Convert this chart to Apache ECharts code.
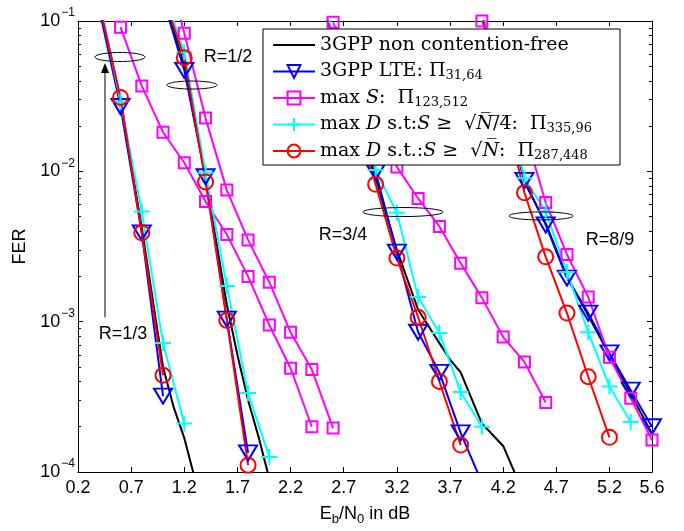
<!DOCTYPE html>
<html>
<head>
<meta charset="utf-8">
<script src="https://cdn.jsdelivr.net/npm/echarts@6/dist/echarts.min.js"></script>
<style>
  html, body { margin: 0; padding: 0; background: #fff; }
  #chart { width: 684px; height: 531px; }
</style>
</head>
<body>
<div id="chart"></div>
<script>
// tick positions
const xTicks = [0.2, 0.7, 1.2, 1.7, 2.2, 2.7, 3.2, 3.7, 4.2, 4.7, 5.2, 5.6];
const yDecades = [1e-4, 1e-3, 1e-2];
const yMinorMult = [2, 3, 4, 5, 6, 7, 8, 9];

// FER curves, one small array per code rate: [Eb/N0, FER]
const black13 = [[0.4, 0.13], [0.6, 0.030], [0.8, 0.0042], [1.0, 0.0005], [1.1, 0.00027], [1.2, 0.000168], [1.3, 0.00009]];
const black12 = [[1.0, 0.15], [1.2, 0.05], [1.4, 0.009], [1.6, 0.0013], [1.7, 0.0006], [1.8, 0.0003], [1.9, 0.00017], [2.0, 0.00009]];
const black34 = [[2.5, 0.13], [3.0, 0.009], [3.2, 0.003], [3.4, 0.0012], [3.6, 0.00072], [3.7, 0.00056], [3.8, 0.00046], [4.0, 0.00021], [4.2, 0.000149], [4.3, 0.000102], [4.4, 0.00007]];
const black89 = [[4.0, 0.12], [4.4, 0.0085], [4.6, 0.0045], [4.8, 0.002], [5.0, 0.0011], [5.2, 0.0006], [5.4, 0.00033], [5.6, 0.00018]];

const blue13 = [[0.4, 0.12], [0.6, 0.027], [0.8, 0.0039], [1.0, 0.00032]];
const blue12 = [[1.0, 0.14], [1.2, 0.047], [1.4, 0.0092], [1.6, 0.00104], [1.8, 0.000134]];
const blue34 = [[2.5, 0.13], [3.0, 0.0099], [3.2, 0.0029], [3.4, 0.00085], [3.6, 0.00046], [3.8, 0.000182], [4.0, 0.000085]];
const blue89 = [[4.0, 0.12], [4.4, 0.0087], [4.6, 0.0044], [4.8, 0.00195], [5.0, 0.00114], [5.2, 0.00062], [5.4, 0.00035], [5.6, 0.0002]];

const mag13 = [[0.6, 0.091], [0.8, 0.037], [1.0, 0.0182], [1.2, 0.0114], [1.4, 0.0063], [1.6, 0.0038], [1.8, 0.002], [2.0, 0.00095], [2.2, 0.00049], [2.4, 0.0002]];
const mag12 = [[1.0, 0.3], [1.2, 0.083], [1.4, 0.0226], [1.6, 0.0075], [1.8, 0.0035], [2.0, 0.00183], [2.2, 0.00085], [2.4, 0.00048], [2.6, 0.000196]];
const mag34 = [[2.6, 0.098], [3.2, 0.0107], [3.4, 0.0066], [3.6, 0.0043], [3.8, 0.00245], [4.0, 0.00144], [4.2, 0.00079], [4.4, 0.00054], [4.6, 0.00029]];
const mag89 = [[4.0, 0.1], [4.4, 0.019], [4.6, 0.0062], [4.8, 0.0028], [5.0, 0.00146], [5.2, 0.00058], [5.4, 0.00031], [5.6, 0.000163]];

const cyan13 = [[0.4, 0.14], [0.6, 0.029], [0.8, 0.0054], [1.0, 0.00072], [1.2, 0.00021]];
const cyan12 = [[1.0, 0.16], [1.2, 0.062], [1.4, 0.0098], [1.6, 0.00173], [1.8, 0.000335], [2.0, 0.000126]];
const cyan34 = [[2.5, 0.14], [3.0, 0.0102], [3.2, 0.0053], [3.4, 0.00146], [3.6, 0.00084], [3.8, 0.00034], [4.0, 0.0002]];
const cyan89 = [[4.0, 0.12], [4.4, 0.009], [4.6, 0.0054], [4.8, 0.00214], [5.0, 0.00085], [5.2, 0.00037], [5.4, 0.000215]];

const red13 = [[0.4, 0.13], [0.6, 0.031], [0.8, 0.0039], [1.0, 0.00044]];
const red12 = [[1.0, 0.15], [1.2, 0.057], [1.4, 0.0085], [1.6, 0.00102], [1.8, 0.000111]];
const red34 = [[2.5, 0.13], [3.0, 0.0082], [3.2, 0.00265], [3.4, 0.00107], [3.6, 0.0004], [3.8, 0.000151]];
const red89 = [[4.0, 0.11], [4.4, 0.0072], [4.6, 0.0027], [4.8, 0.00114], [5.0, 0.00043], [5.2, 0.00017]];

// annotations in data coordinates
const ellipses = [[0.595, 0.0576, 25, 4.5], [1.272, 0.0375, 25, 4], [3.257, 0.00536, 40, 4.5], [4.556, 0.00505, 32, 4]];
const rateLabels = [['R=1/3', 0.623, 0.00083], ['R=1/2', 1.611, 0.0576], ['R=3/4', 2.693, 0.00377], ['R=8/9', 5.205, 0.00349]];
const arrow = [0.454, 0.00107, 0.0526];

const names = ['3GPP non contention-free', '3GPP LTE', 'max S', 'max D N/4', 'max D N'];
const legendText = {
  '3GPP non contention-free': '3GPP non contention-free',
  '3GPP LTE': '3GPP LTE: \u03a0{s|31,64}',
  'max S': 'max {i|S}:  \u03a0{s|123,512}',
  'max D N/4': 'max {i|D} s.t:{i|S} \u2265  \u221a{i|N\u0305}/\u03054\u0305:  \u03a0{s|335,96}',
  'max D N': 'max {i|D} s.t.:{i|S} \u2265  \u221a{i|N\u0305}:  \u03a0{s|287,448}'
};

const join = (groups) => {
  const out = [];
  groups.forEach((g, i) => {
    if (i > 0) out.push('-');
    g.forEach(p => out.push(p));
  });
  return out;
};

const yMinor = [];
yDecades.forEach(d => yMinorMult.forEach(m => yMinor.push(m * d)));

const SANS = 'Liberation Sans, Arial, sans-serif';
const SERIF = 'DejaVu Serif, serif';
const plus = 'path://M0,-1L0,1M-1,0L1,0';

function mk(name, color, groups, symbol, size, rotate) {
  return {
    name: name,
    type: 'line',
    data: join(groups),
    symbol: symbol,
    symbolSize: size,
    symbolRotate: rotate || 0,
    showSymbol: symbol !== 'none',
    connectNulls: false,
    clip: true,
    lineStyle: { color: color, width: 2 },
    itemStyle: { color: 'rgba(0,0,0,0)', borderColor: color, borderWidth: 2 },
    emphasis: { disabled: true }
  };
}

const chart = echarts.init(document.getElementById('chart'));

const xBase = {
  type: 'value', min: 0.2, max: 5.6, interval: 0.5,
  splitLine: { show: false },
  axisLine: { show: true, onZero: false, lineStyle: { color: '#000', width: 1 } },
  axisTick: { show: true, inside: true, length: 5, customValues: xTicks, lineStyle: { color: '#000' } }
};
const yBase = {
  type: 'log', logBase: 10, min: 1e-4, max: 1e-1,
  splitLine: { show: false },
  axisLine: { show: true, onZero: false, lineStyle: { color: '#000', width: 1 } },
  axisTick: { show: true, inside: true, length: 5, lineStyle: { color: '#000' } }
};

// legend entries; the marker-less curve gets a plain line icon
const legendData = names.map((n, i) => i === 0
  ? { name: n, icon: 'path://M0,0L42,0L42,2L0,2Z', itemStyle: { color: '#000', borderWidth: 0 } }
  : { name: n });

chart.setOption({
  animation: false,
  backgroundColor: '#fff',
  grid: { left: 78, right: 32, top: 21, bottom: 59, containLabel: false },
  xAxis: [
    Object.assign({}, xBase, {
      position: 'bottom',
      name: '{n|E}{sb|b}{n|/N}{sb|0}{n| in dB}',
      nameLocation: 'middle',
      nameGap: 30,
      nameTextStyle: {
        rich: {
          n: { fontFamily: SANS, fontSize: 18, color: '#000', lineHeight: 24 },
          sb: { fontFamily: SANS, fontSize: 13, color: '#000', lineHeight: 13, verticalAlign: 'bottom' }
        }
      },
      axisLabel: {
        show: true, margin: 7, customValues: xTicks,
        fontFamily: SANS, fontSize: 18, color: '#000',
        formatter: v => Number(v).toFixed(1)
      }
    }),
    Object.assign({}, xBase, { position: 'top', axisLabel: { show: false } })
  ],
  yAxis: [
    Object.assign({}, yBase, {
      position: 'left',
      name: 'FER',
      nameLocation: 'middle',
      nameGap: 47,
      nameTextStyle: { fontFamily: SANS, fontSize: 18, color: '#000' },
      axisLabel: {
        show: true, margin: 3,
        formatter: v => '{b|10}{s|\u2212' + (-Math.round(Math.log10(v))) + '}',
        rich: {
          b: { fontFamily: SANS, fontSize: 18, color: '#000', lineHeight: 30 },
          s: { fontFamily: SANS, fontSize: 12, color: '#000', lineHeight: 12, verticalAlign: 'top', padding: [1, 0, 0, 1] }
        }
      }
    }),
    Object.assign({}, yBase, { position: 'right', axisLabel: { show: false } }),
    Object.assign({}, yBase, {
      position: 'left', axisLine: { show: false },
      axisTick: { show: true, inside: true, length: 3, customValues: yMinor, lineStyle: { color: '#000' } },
      axisLabel: { show: false }
    }),
    Object.assign({}, yBase, {
      position: 'right', axisLine: { show: false },
      axisTick: { show: true, inside: true, length: 3, customValues: yMinor, lineStyle: { color: '#000' } },
      axisLabel: { show: false }
    })
  ],
  legend: {
    data: legendData,
    orient: 'vertical',
    left: 263, top: 29,
    padding: [3, 28, 1, 9],
    itemGap: 0.5,
    itemWidth: 42, itemHeight: 16,
    selectedMode: false,
    backgroundColor: '#fff',
    borderColor: '#000', borderWidth: 1, borderRadius: 0,
    formatter: name => legendText[name],
    textStyle: {
      fontFamily: SERIF, fontSize: 19, color: '#000', lineHeight: 26,
      rich: {
        i: { fontFamily: SERIF, fontSize: 19, fontStyle: 'italic', color: '#000' },
        s: { fontFamily: SERIF, fontSize: 13, color: '#000', lineHeight: 13, verticalAlign: 'bottom', padding: [0, 0, 2, 0] }
      }
    }
  },
  series: [
    mk(names[0], '#000000', [black13, black12, black34, black89], 'none', 0),
    mk(names[1], '#0000ff', [blue13, blue12, blue34, blue89], 'triangle', [18, 15], 180),
    mk(names[2], '#ff00ff', [mag13, mag12, mag34, mag89], 'rect', 11),
    mk(names[3], '#00ffff', [cyan13, cyan12, cyan34, cyan89], plus, 16),
    mk(names[4], '#ff0000', [red13, red12, red34, red89], 'circle', 15)
  ]
});

// annotations: ellipses, rate labels, arrow
const px = (x, y) => chart.convertToPixel({ xAxisIndex: 0, yAxisIndex: 0 }, [x, y]);
const graphics = [];
ellipses.forEach(e => {
  const c = px(e[0], e[1]);
  graphics.push({ type: 'ellipse', z: 20, shape: { cx: c[0], cy: c[1], rx: e[2], ry: e[3] },
    style: { fill: 'none', stroke: '#000', lineWidth: 1 } });
});
rateLabels.forEach(r => {
  const c = px(r[1], r[2]);
  graphics.push({ type: 'text', z: 20, x: c[0], y: c[1],
    style: { text: r[0], font: '18px ' + SANS, fill: '#000', align: 'center', verticalAlign: 'middle' } });
});
const a0 = px(arrow[0], arrow[1]);
const a1 = px(arrow[0], arrow[2]);
graphics.push({ type: 'line', z: 20, shape: { x1: a0[0], y1: a0[1], x2: a1[0], y2: a1[1] + 6 },
  style: { stroke: '#000', lineWidth: 1 } });
graphics.push({ type: 'polygon', z: 20, shape: { points: [[a1[0], a1[1]], [a1[0] - 4, a1[1] + 10], [a1[0] + 4, a1[1] + 10]] },
  style: { fill: '#000' } });
chart.setOption({ graphic: graphics });
</script>
</body>
</html>
